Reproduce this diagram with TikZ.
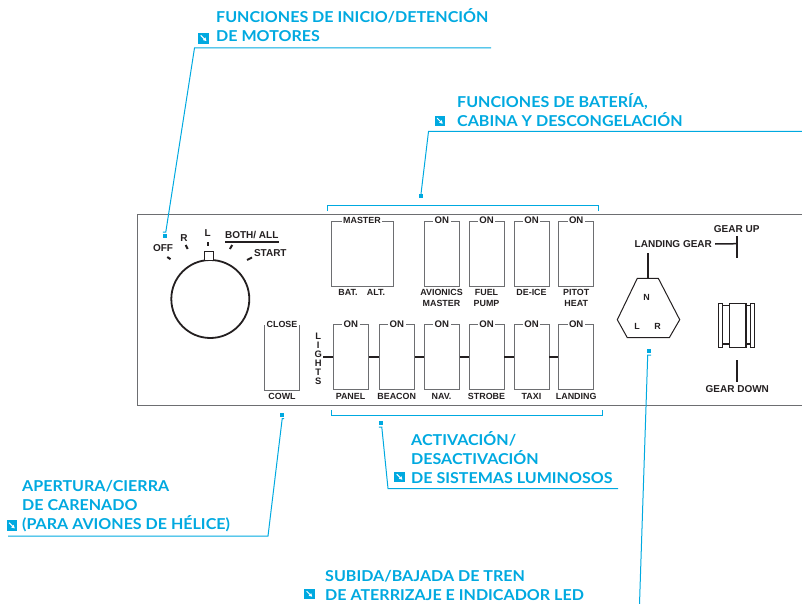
\documentclass[tikz,border=0pt]{standalone}
\usepackage{fontspec}
\usetikzlibrary{arrows.meta}
\setmainfont{Liberation Sans}
\newfontfamily\calloutfont{Lato}[BoldFont={Lato Bold},FakeStretch=1.07]
\definecolor{callblue}{HTML}{00A9E0}
\definecolor{panelink}{HTML}{231F20}
\definecolor{panelgray}{HTML}{6D6E71}
\tikzset{
  panelbox/.style={draw=panelgray,line width=0.9pt,minimum width=35pt,minimum height=65pt,inner sep=0pt},
  toplabel/.style={fill=white,font=\bfseries\fontsize{8.9}{9}\selectfont,text=panelink,inner xsep=1.5pt,inner ysep=0pt},
  onlabel/.style={toplabel,font=\bfseries\fontsize{9.6}{10}\selectfont},
  panellabel/.style={font=\bfseries\fontsize{8.9}{10.6}\selectfont,text=panelink,align=center,inner sep=0pt},
  biglabel/.style={panellabel,font=\bfseries\fontsize{10}{11}\selectfont},
  tickmark/.style={draw=panelink,line width=2pt},
  linkline/.style={draw=panelink,line width=1.5pt},
  gearline/.style={draw=panelink,line width=1.2pt},
  leader/.style={draw=callblue,line width=1pt},
  calldot/.style={fill=callblue,minimum size=4pt,inner sep=0pt},
  callicon/.style={fill=callblue,minimum size=10.5pt,inner sep=0pt},
  calltext/.style={font=\calloutfont\bfseries\fontsize{15}{19}\selectfont,text=callblue,anchor=west,align=left,inner sep=0pt}
}
\newcommand{\iconarrow}[1]{\draw[white,line width=1pt,-{Latex[length=3.5pt,width=4pt]}] ([shift={(-2.9,-2.9)}]#1.center) -- ([shift={(2.9,2.9)}]#1.center);}
\begin{document}
\begin{tikzpicture}[x=1pt,y=-1pt]
\useasboundingbox (0,0) rectangle (802,604);

\draw[draw=panelgray,line width=1pt] (802,214) -- (137,214) -- (137,405) -- (802,405);

% knob
\node[circle,draw=panelink,line width=1.8pt,minimum size=78pt,inner sep=0pt] (knob) at (210.3,299) {};
\node[draw=panelink,fill=white,line width=1.5pt,minimum size=9pt,inner sep=0pt] (knobtab) at (209.2,256) {};
\draw[tickmark] (167.3,257) -- (170.5,259.2);
\draw[tickmark] (185.7,245) -- (187.7,249);
\draw[tickmark] (208,242) -- (208,245.8);
\draw[tickmark] (232.2,245) -- (229.9,249);
\draw[tickmark] (247,260) -- (252,257.5);
\node[biglabel] (off) at (163,248.3) {OFF};
\node[biglabel] (right) at (184,237.7) {R};
\node[biglabel] (left) at (207.7,232.7) {L};
\node[biglabel] (both) at (251.7,235.3) {BOTH/ ALL};
\draw[linkline] (225,242) -- (279,242);
\node[biglabel] (start) at (270.3,253.3) {START};

% cowl
\node[panelbox] (cowl) at (282,357.6) {};
\node[toplabel] (close) at (cowl.north) {CLOSE};
\node[panellabel] (cowltext) at (282,396.7) {COWL};

% lights
\node[panellabel,font=\bfseries\fontsize{9.4}{9}\selectfont] (lights) at (318.3,358.5) {L\\I\\G\\H\\T\\S};

% upper row
\node[panelbox,minimum width=62pt] (master) at (362,253.5) {};
\node[panelbox] (avionics) at (441.8,253.5) {};
\node[panelbox] (fuel) at (486.5,253.5) {};
\node[panelbox] (deice) at (531.5,253.5) {};
\node[panelbox] (pitot) at (576.2,253.5) {};
\node[toplabel] (mastertop) at (master.north) {MASTER};
\node[onlabel] (avionicstop) at (avionics.north) {ON};
\node[onlabel] (fueltop) at (fuel.north) {ON};
\node[onlabel] (deicetop) at (deice.north) {ON};
\node[onlabel] (pitottop) at (pitot.north) {ON};
\node[panellabel] (bat) at (348,292) {BAT.};
\node[panellabel] (alt) at (376,292) {ALT.};
\node[panellabel] (avionicstext) at (441.5,298) {AVIONICS\\MASTER};
\node[panellabel] (fueltext) at (486.5,298) {FUEL\\PUMP};
\node[panellabel] (deicetext) at (531.5,292.7) {DE-ICE};
\node[panellabel] (pitottext) at (576.2,298) {PITOT\\HEAT};

% lower row
\node[panelbox] (panel) at (350.8,357.2) {};
\node[panelbox] (beacon) at (396.8,357.2) {};
\node[panelbox] (nav) at (441.8,357.2) {};
\node[panelbox] (strobe) at (486.5,357.2) {};
\node[panelbox] (taxi) at (531.5,357.2) {};
\node[panelbox] (landing) at (576.2,357.2) {};
\node[onlabel] (paneltop) at (panel.north) {ON};
\node[onlabel] (beacontop) at (beacon.north) {ON};
\node[onlabel] (navtop) at (nav.north) {ON};
\node[onlabel] (strobetop) at (strobe.north) {ON};
\node[onlabel] (taxitop) at (taxi.north) {ON};
\node[onlabel] (landingtop) at (landing.north) {ON};
\node[panellabel] (paneltext) at (350.5,396.7) {PANEL};
\node[panellabel] (beacontext) at (396.7,396.7) {BEACON};
\node[panellabel] (navtext) at (441.5,396.7) {NAV.};
\node[panellabel] (strobetext) at (486.5,396.7) {STROBE};
\node[panellabel] (taxitext) at (531.5,396.7) {TAXI};
\node[panellabel] (landingtext) at (576.2,396.7) {LANDING};
\coordinate (lightsend) at (323,357.2);
\draw[linkline] (lightsend) -- (panel.west);
\draw[linkline] (panel.east) -- (beacon.west);
\draw[linkline] (beacon.east) -- (nav.west);
\draw[linkline] (nav.east) -- (strobe.west);
\draw[linkline] (strobe.east) -- (taxi.west);
\draw[linkline] (taxi.east) -- (landing.west);

% landing gear
\draw[gearline,line width=1pt] (637.3,278.3) -- (658.3,278.3) -- (679.7,319.7) -- (669.3,337.7) -- (627.3,337.7) -- (617.3,319.7) -- cycle;
\coordinate (hextop) at (648,278.3);
\coordinate (hexstem) at (648,253.3);
\draw[linkline] (hextop) -- (hexstem);
\node[panellabel] (neutral) at (646.7,297.7) {N};
\node[panellabel] (gearl) at (637,326.7) {L};
\node[panellabel] (gearr) at (657.7,326.7) {R};
\node[biglabel] (geartext) at (673.3,244) {LANDING GEAR};
\node[biglabel] (gearup) at (736.7,229) {GEAR UP};
\node[biglabel] (geardown) at (737.3,389) {GEAR DOWN};
\coordinate (upjoin) at (737,243.7);
\draw[linkline] (geartext.east) ++(3,0) -- (upjoin);
\draw[linkline] (737,236.3) -- (737,257.7);
\draw[linkline] (737,360.3) -- (737,381.7);
\draw[gearline] (722.7,305.7) rectangle (750.7,344);
\draw[gearline] (718.8,303.4) rectangle (722.7,347.4);
\draw[gearline] (750.7,303.4) rectangle (754.7,347.4);
\draw[gearline,fill=white] (729.3,303.4) rectangle (746,347.4);

% brackets
\draw[leader] (327.3,210.7) -- (327.3,205.7) -- (598.3,205.7) -- (598.3,210.7);
\draw[leader] (331.7,410) -- (331.7,415.3) -- (602.3,415.3) -- (602.3,410);

% callouts
\node[calldot] (dotengine) at (165,235.7) {};
\node[calldot] (dotbattery) at (421,196) {};
\node[calldot] (dotcowl) at (282,415) {};
\node[calldot] (dotlights) at (381,423) {};
\node[calldot] (dotgear) at (649,350.7) {};
\coordinate (kneeengine) at (194.5,48);
\coordinate (endengine) at (491,48);
\coordinate (kneebattery) at (428.5,131.5);
\coordinate (endbattery) at (802,131.5);
\coordinate (kneecowl) at (268,536);
\coordinate (endcowl) at (8,536);
\coordinate (kneelights) at (388,488.5);
\coordinate (endlights) at (618,488.5);
\coordinate (endgear) at (639.5,604);
\draw[leader] (dotengine.north west) ++(0,-1.5) -- ++(3,0) -- (kneeengine) -- (endengine);
\draw[leader] (dotbattery.north) -- (kneebattery) -- (endbattery);
\draw[leader] (dotcowl.south east) ++(0,1.5) -- ++(-2,0) -- (kneecowl) -- (endcowl);
\draw[leader] (dotlights.south west) ++(0,2) -- ++(3,0) -- (kneelights) -- (endlights);
\draw[leader] (dotgear.south east) ++(0,2.3) -- ++(-3.5,0) -- (endgear);

\node[callicon] (iconengine) at (203.7,38.3) {};
\node[callicon] (iconbattery) at (440,121) {};
\node[callicon] (iconcowl) at (12,525.7) {};
\node[callicon] (iconlights) at (399.7,477) {};
\node[callicon] (icongear) at (309.5,594) {};
\iconarrow{iconengine}
\iconarrow{iconbattery}
\iconarrow{iconcowl}
\iconarrow{iconlights}
\iconarrow{icongear}

\node[calltext] (textengine) at (216,25.5) {FUNCIONES DE INICIO/DETENCIÓN\\DE MOTORES};
\node[calltext] (textbattery) at (457,110.5) {FUNCIONES DE BATERÍA,\\CABINA Y DESCONGELACIÓN};
\node[calltext] (textcowl) at (22,506) {APERTURA/CIERRA\\DE CARENADO\\(PARA AVIONES DE HÉLICE)};
\node[calltext] (textlights) at (411,458) {ACTIVACIÓN/\\DESACTIVACIÓN\\DE SISTEMAS LUMINOSOS};
\node[calltext] (textgear) at (325,585) {SUBIDA/BAJADA DE TREN\\DE ATERRIZAJE E INDICADOR LED};
\end{tikzpicture}
\end{document}
